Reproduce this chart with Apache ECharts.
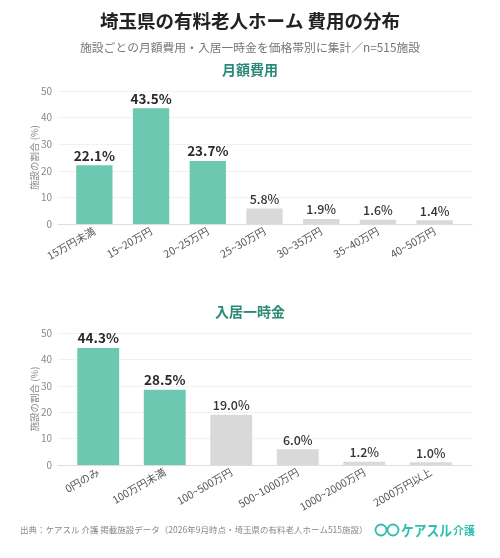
<!DOCTYPE html>
<html><head><meta charset="utf-8">
<script src="https://cdn.jsdelivr.net/npm/echarts@6/dist/echarts.min.js"></script>
<style>html,body{margin:0;padding:0;background:#fff}#c{width:500px;height:558px}</style>
</head><body><div id="c"></div>
<script>
const monthlyCats = ['15万円未満','15~20万円','20~25万円','25~30万円','30~35万円','35~40万円','40~50万円'];
const monthlyVals = [22.1, 43.5, 23.7, 5.8, 1.9, 1.6, 1.4];
const monthlyHighlight = [true, true, true, false, false, false, false];
const entryCats = ['0円のみ','100万円未満','100~500万円','500~1000万円','1000~2000万円','2000万円以上'];
const entryVals = [44.3, 28.5, 19.0, 6.0, 1.2, 1.0];
const entryHighlight = [true, true, false, false, false, false];
const yTicks = [0, 10, 20, 30, 40, 50];

const FONT = '"Noto Sans CJK JP", "Noto Sans", sans-serif';
const TEAL = '#6dc8b2';
const GRAY = '#d9d9d9';

function mkData(vals, hl) {
  return vals.map((v, i) => ({
    value: v,
    itemStyle: { color: hl[i] ? TEAL : GRAY },
    label: hl[i] ? { fontSize: 13.5, fontWeight: 'bold', color: '#2b2b2b' } : { fontSize: 12.5, fontWeight: 500, color: '#333' }
  }));
}

const chart = echarts.init(document.getElementById('c'), null, { renderer: 'canvas' });
const yMin = yTicks[0], yMax = yTicks[yTicks.length - 1], yInt = yTicks[1] - yTicks[0];
const bgY = {
  type: 'value', min: yMin, max: yMax, interval: yInt,
  name: '施設の割合 (%)', nameLocation: 'middle', nameGap: 19, nameRotate: 90, nameMoveOverlap: false,
  nameTextStyle: { color: '#888', fontSize: 9.5, fontFamily: FONT },
  axisLabel: { color: '#888', fontSize: 10, fontFamily: FONT, margin: 6 },
  axisLine: { show: false }, axisTick: { show: false },
  splitLine: { lineStyle: { color: '#f1f1f1', width: 1 } }
};
const bgX = {
  type: 'value', min: 0, max: 1,
  axisLine: { show: true, onZero: false, lineStyle: { color: '#dddddd' } },
  axisTick: { show: false }, axisLabel: { show: false }, splitLine: { show: false }
};
const barY = { type: 'value', min: yMin, max: yMax, interval: yInt, show: false };
const barX = {
  type: 'category',
  axisLine: { show: false },
  axisTick: { alignWithLabel: true, length: 3, lineStyle: { color: '#bbb' } },
  axisLabel: { rotate: 30, color: '#555', fontSize: 10.5, fontFamily: FONT, margin: 6, interval: 0 }
};
const lbl = { show: true, position: 'top', distance: 3, formatter: p => p.value.toFixed(1) + '%', fontFamily: FONT };
chart.setOption({
  animation: false,
  textStyle: { fontFamily: FONT },
  title: [
    { text: '埼玉県の有料老人ホーム 費用の分布', left: 'center', top: 7,
      textStyle: { fontSize: 18.5, fontWeight: 'bold', color: '#222', fontFamily: FONT } },
    { text: '施設ごとの月額費用・入居一時金を価格帯別に集計／n=515施設', left: 'center', top: 37,
      textStyle: { fontSize: 11.8, fontWeight: 'normal', color: '#777', fontFamily: FONT } },
    { text: '月額費用', left: 'center', top: 58,
      textStyle: { fontSize: 14, fontWeight: 'bold', color: '#2a8a76', fontFamily: FONT } },
    { text: '入居一時金', left: 'center', top: 300,
      textStyle: { fontSize: 14, fontWeight: 'bold', color: '#2a8a76', fontFamily: FONT } }
  ],
  grid: [
    { left: 58, right: 28, top: 91, height: 133 },
    { left: 58, right: 28, top: 333, height: 132 },
    { left: 66, right: 37, top: 91, height: 133 },
    { left: 65, right: 36, top: 333, height: 132 }
  ],
  xAxis: [
    Object.assign({}, bgX, { gridIndex: 0 }),
    Object.assign({}, bgX, { gridIndex: 1 }),
    Object.assign({}, barX, { gridIndex: 2, data: monthlyCats }),
    Object.assign({}, barX, { gridIndex: 3, data: entryCats })
  ],
  yAxis: [
    Object.assign({}, bgY, { gridIndex: 0 }),
    Object.assign({}, bgY, { gridIndex: 1 }),
    Object.assign({}, barY, { gridIndex: 2 }),
    Object.assign({}, barY, { gridIndex: 3 })
  ],
  series: [
    { type: 'bar', xAxisIndex: 2, yAxisIndex: 2, barWidth: '64%', data: mkData(monthlyVals, monthlyHighlight), label: lbl },
    { type: 'bar', xAxisIndex: 3, yAxisIndex: 3, barWidth: '63%', data: mkData(entryVals, entryHighlight), label: lbl }
  ],
  graphic: [
    { type: 'text', left: 20, top: 526,
      style: { text: '出典：ケアスル 介護 掲載施設データ（2026年9月時点・埼玉県の有料老人ホーム515施設）', fill: '#888', fontSize: 8.5, fontFamily: FONT } },
    { type: 'circle', shape: { cx: 381, cy: 530, r: 5.5 }, style: { fill: 'none', stroke: '#2fbfae', lineWidth: 1.8 } },
    { type: 'circle', shape: { cx: 393, cy: 530, r: 5.5 }, style: { fill: 'none', stroke: '#2fbfae', lineWidth: 1.8 } },
    { type: 'text', x: 401, y: 530, scaleX: 0.85,
      style: { text: 'ケアスル', fill: '#2fbfae', fontSize: 15, fontWeight: 'bold', fontFamily: FONT, verticalAlign: 'middle' } },
    { type: 'text', x: 453, y: 531,
      style: { text: '介護', fill: '#2fbfae', fontSize: 11, fontWeight: 'bold', fontFamily: FONT, verticalAlign: 'middle' } }
  ]
});
</script></body></html>
